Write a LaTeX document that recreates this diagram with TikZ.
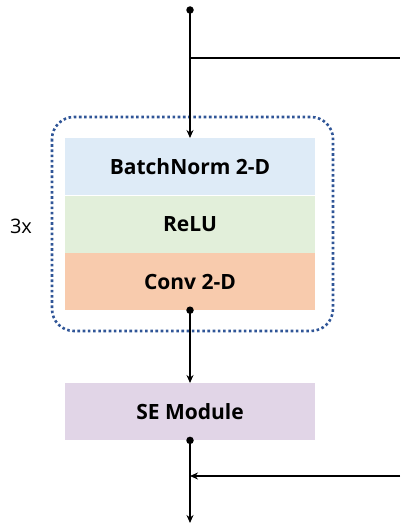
\documentclass[tikz,border=0pt]{standalone}
\usepackage{fontspec}
\setmainfont{Open Sans}
\usetikzlibrary{arrows.meta}
\definecolor{bnblue}{HTML}{DEEBF7}
\definecolor{relugreen}{HTML}{E2EFDA}
\definecolor{convorange}{HTML}{F8CBAD}
\definecolor{sepurple}{HTML}{E1D5E7}
\definecolor{dashblue}{HTML}{2F5597}
\begin{document}
\begin{tikzpicture}[x=1pt,y=-1pt,
  layer/.style={minimum width=250pt,minimum height=57pt,inner sep=0pt,font=\fontsize{21}{24}\selectfont\bfseries},
  conn/.style={line width=1.6pt,draw=black},
  arr/.style={conn,-{Stealth[length=8pt,width=7pt]}},
  dotstart/.style={circle,fill=black,inner sep=0pt,minimum size=7.5pt}]
\useasboundingbox (0,0) rectangle (400,527);
\node[dotstart] (top) at (190,10) {};
\coordinate (branch) at (190,58);
\coordinate (branchend) at (400,58);
\node[layer,fill=bnblue,anchor=north] (bn) at (190,138) {BatchNorm 2-D};
\node[layer,fill=relugreen,anchor=north] (relu) at (bn.south) {ReLU};
\node[layer,fill=convorange,anchor=north] (conv) at (relu.south) {Conv 2-D};
\draw[dashblue,line width=2.6pt,dash pattern=on 2.6pt off 2.6pt,rounded corners=22pt] (52,117) rectangle (333,331);
\node[font=\fontsize{20}{22}\selectfont] (rep) at (21,226) {3x};
\node[dotstart] (convdot) at (conv.south) {};
\node[layer,fill=sepurple,anchor=north] (se) at (190,383) {SE Module};
\node[dotstart] (sedot) at (se.south) {};
\coordinate (join) at (190,476);
\coordinate (joinstart) at (400,476);
\coordinate (out) at (190,523);
\draw[arr] (top.center) -- (bn.north);
\draw[conn] (branch) -- (branchend);
\draw[arr] (convdot.center) -- (se.north);
\draw[arr] (sedot.center) -- (out);
\draw[arr] (joinstart) -- (join);
\end{tikzpicture}
\end{document}
